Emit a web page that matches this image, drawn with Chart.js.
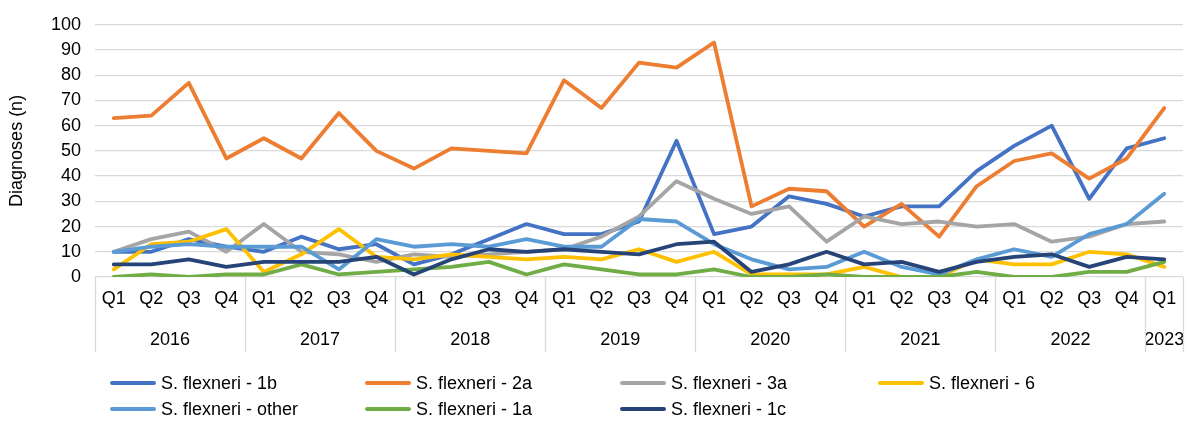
<!DOCTYPE html>
<html>
<head>
<meta charset="utf-8">
<script src="https://cdn.jsdelivr.net/npm/chart.js@4.4.1/dist/chart.umd.min.js"></script>
<style>
  html, body { margin: 0; padding: 0; background: #ffffff; }
  #wrap { position: relative; width: 1193px; height: 421px; font-family: "Liberation Sans", Arial, sans-serif; }
  #chart { position: absolute; left: 0; top: 0; }
  .leg { position: absolute; display: flex; align-items: center; font-size: 18px; color: #000; white-space: nowrap; }
  .leg span.sw { display: inline-block; width: 46px; height: 4px; border-radius: 2px; margin-right: 5px; }
</style>
</head>
<body>
<div id="wrap">
  <canvas id="chart" width="1193" height="421"></canvas>
  <div id="legend"></div>
</div>
<script>
const quarters = ['Q1','Q2','Q3','Q4','Q1','Q2','Q3','Q4','Q1','Q2','Q3','Q4','Q1','Q2','Q3','Q4','Q1','Q2','Q3','Q4','Q1','Q2','Q3','Q4','Q1','Q2','Q3','Q4','Q1'];
const years = ['2016','2017','2018','2019','2020','2021','2022','2023'];
const yearCenters = [1.5, 5.5, 9.5, 13.5, 17.5, 21.5, 25.5, 28];
const yearBounds = [-0.5, 3.5, 7.5, 11.5, 15.5, 19.5, 23.5, 27.5, 28.5];

const seriesNames = ['S. flexneri - 1b','S. flexneri - 2a','S. flexneri - 3a','S. flexneri - 6','S. flexneri - other','S. flexneri - 1a','S. flexneri - 1c'];
const seriesColors = ['#4472C4','#ED7D31','#A5A5A5','#FFC000','#5B9BD5','#70AD47','#264478'];

const flex1b    = [10, 10, 15, 12, 10, 16, 11, 13, 5, 9, 15, 21, 17, 17, 22, 54, 17, 20, 32, 29, 24, 28, 28, 42, 52, 60, 31, 51, 55];
const flex2a    = [63, 64, 77, 47, 55, 47, 65, 50, 43, 51, 50, 49, 78, 67, 85, 83, 93, 28, 35, 34, 20, 29, 16, 36, 46, 49, 39, 47, 67];
const flex3a    = [10, 15, 18, 10, 21, 10, 9, 6, 9, 8, 9, 10, 11, 16, 24, 38, 31, 25, 28, 14, 24, 21, 22, 20, 21, 14, 16, 21, 22];
const flex6     = [3, 13, 14, 19, 2, 9, 19, 8, 7, 9, 8, 7, 8, 7, 11, 6, 10, 1, 1, 1, 4, 0, 0, 7, 5, 5, 10, 9, 4];
const flexOther = [10, 12, 13, 12, 12, 12, 3, 15, 12, 13, 12, 15, 12, 12, 23, 22, 13, 7, 3, 4, 10, 4, 1, 7, 11, 8, 17, 21, 33];
const flex1a    = [0, 1, 0, 1, 1, 5, 1, 2, 3, 4, 6, 1, 5, 3, 1, 1, 3, 0, 0, 1, 0, 0, 0, 2, 0, 0, 2, 2, 6];
const flex1c    = [5, 5, 7, 4, 6, 6, 6, 8, 1, 7, 11, 10, 11, 10, 9, 13, 14, 2, 5, 10, 5, 6, 2, 6, 8, 9, 4, 8, 7];

const seriesData = [flex1b, flex2a, flex3a, flex6, flexOther, flex1a, flex1c];
const yTicks = [0,10,20,30,40,50,60,70,80,90,100];

const FONT = "'Liberation Sans', Arial, sans-serif";

const datasets = seriesNames.map((n, i) => ({
  label: n,
  data: seriesData[i],
  borderColor: seriesColors[i],
  backgroundColor: seriesColors[i],
  borderWidth: 3.8,
  pointRadius: 0,
  tension: 0,
  fill: false,
  borderJoinStyle: 'round',
  borderCapStyle: 'round',
  order: seriesNames.length - i
}));

const separators = {
  id: 'separators',
  afterDraw(chart) {
    const s = chart.scales.x2;
    const ctx = chart.ctx;
    ctx.save();
    ctx.strokeStyle = '#d9d9d9';
    ctx.lineWidth = 1.3;
    yearBounds.forEach(b => {
      const x = Math.round(s.getPixelForValue(b)) + 0.5;
      ctx.beginPath();
      ctx.moveTo(x, chart.chartArea.bottom);
      ctx.lineTo(x, s.bottom);
      ctx.stroke();
    });
    ctx.restore();
  }
};

const chart = new Chart(document.getElementById('chart'), {
  type: 'line',
  data: { labels: quarters, datasets },
  options: {
    responsive: false,
    animation: false,
    maintainAspectRatio: false,
    layout: { padding: { left: 4, right: 10, top: 12, bottom: 69 } },
    plugins: { legend: { display: false }, tooltip: { enabled: false } },
    scales: {
      x: {
        type: 'category',
        offset: true,
        weight: 0,
        grid: { display: false, drawTicks: false },
        border: { display: false },
        ticks: { color: '#000', font: { family: FONT, size: 18 }, padding: 11, maxRotation: 0, autoSkip: false },
        afterFit: (s) => { s.height = 40; s.paddingLeft = 0; s.paddingRight = 0; }
      },
      x2: {
        type: 'linear',
        position: 'bottom',
        weight: 1,
        min: -0.5,
        max: 28.5,
        grid: { display: false, drawTicks: false },
        border: { display: false },
        afterBuildTicks: (scale) => { scale.ticks = yearCenters.map(v => ({ value: v })); },
        ticks: {
          color: '#000', font: { family: FONT, size: 18 }, padding: 12, maxRotation: 0, autoSkip: false,
          callback: (v, i) => years[i]
        },
        afterFit: (s) => { s.height = 35; s.paddingLeft = 0; s.paddingRight = 0; }
      },
      y: {
        min: 0,
        max: 100,
        afterBuildTicks: (scale) => { scale.ticks = yTicks.map(v => ({ value: v })); },
        grid: { color: '#d9d9d9', lineWidth: 1.3, drawTicks: false },
        border: { display: false },
        ticks: { color: '#000', font: { family: FONT, size: 18 }, padding: 14, autoSkip: false },
        title: { display: true, text: 'Diagnoses (n)', color: '#000', font: { family: FONT, size: 18 }, padding: { top: 2, bottom: 20 } },
        afterFit: (s) => { s.width = 91; }
      }
    }
  },
  plugins: [separators]
});

// HTML legend built from the chart's datasets
const legendPos = [
  { left: 110, top: 383 }, { left: 365, top: 383 }, { left: 620, top: 383 }, { left: 878, top: 383 },
  { left: 110, top: 409 }, { left: 365, top: 409 }, { left: 620, top: 409 }
];
const legendEl = document.getElementById('legend');
chart.data.datasets.forEach((ds, i) => {
  const d = document.createElement('div');
  d.className = 'leg';
  d.style.left = legendPos[i].left + 'px';
  d.style.top = (legendPos[i].top - 11) + 'px';
  d.style.height = '22px';
  const sw = document.createElement('span');
  sw.className = 'sw';
  sw.style.background = ds.borderColor;
  d.appendChild(sw);
  d.appendChild(document.createTextNode(ds.label));
  legendEl.appendChild(d);
});
</script>
</body>
</html>
